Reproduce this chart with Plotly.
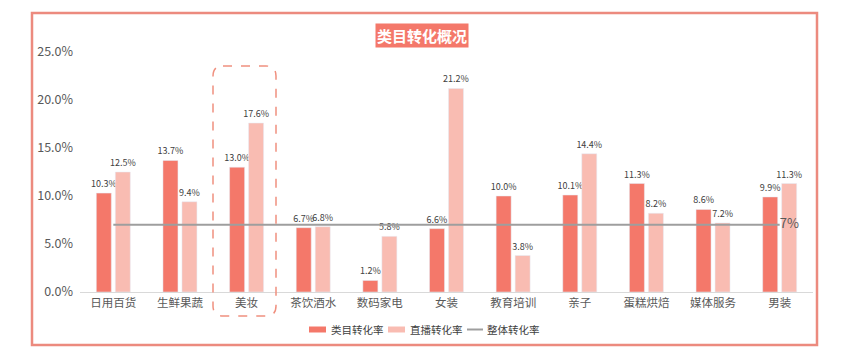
import plotly.graph_objects as go

categories = ["日用百货", "生鲜果蔬", "美妆", "茶饮酒水", "数码家电", "女装", "教育培训", "亲子", "蛋糕烘焙", "媒体服务", "男装"]
category_rate = [10.3, 13.7, 13.0, 6.7, 1.2, 6.6, 10.0, 10.1, 11.3, 8.6, 9.9]
live_rate = [12.5, 9.4, 17.6, 6.8, 5.8, 21.2, 3.8, 14.4, 8.2, 7.2, 11.3]
overall_rate = 7
y_ticks = [0, 5, 10, 15, 20, 25]
series_names = ["类目转化率", "直播转化率", "整体转化率"]

FONT = "Noto Sans CJK SC"
DARK = "#F4786A"
LIGHT = "#F9BCB2"
LINE = "#9E9E9E"
BORDER = "#EC8A7E"

W, H = 844, 354
L, R, T, B = 80, 31, 52, 62
pw, ph = W - L - R, H - T - B

def px(x):
    return (x - L) / pw

def py(y):
    return (H - B - y) / ph

fig = go.Figure()
fig.add_trace(go.Bar(
    x=categories, y=category_rate, name=series_names[0], marker_color=DARK,
    text=[f"{v:.1f}%" for v in category_rate], textposition="outside",
    constraintext="none",
    textfont=dict(size=9, color="#404040"), cliponaxis=False))
fig.add_trace(go.Bar(
    x=categories, y=live_rate, name=series_names[1], marker_color=LIGHT,
    text=[f"{v:.1f}%" for v in live_rate], textposition="outside",
    constraintext="none",
    textfont=dict(size=9, color="#404040"), cliponaxis=False))
fig.add_trace(go.Scatter(
    x=categories, y=[overall_rate] * len(categories), name=series_names[2],
    mode="lines+text", line=dict(color=LINE, width=2),
    text=[""] * (len(categories) - 1) + [f"{overall_rate}%"],
    textposition="middle right", textfont=dict(size=13, color="#595959"),
    cliponaxis=False))

# outer border
fig.add_shape(type="rect", xref="paper", yref="paper",
              x0=px(32), x1=px(817), y0=py(345), y1=py(13),
              line=dict(color=BORDER, width=2.5), layer="below")

# dashed rounded highlight around 美妆
x0, x1, y0, y1, r = px(213), px(276), py(316), py(66), 10
rx, ry = r / pw, r / ph
path = (f"M {x0+rx},{y1} L {x1-rx},{y1} Q {x1},{y1} {x1},{y1-ry} "
        f"L {x1},{y0+ry} Q {x1},{y0} {x1-rx},{y0} L {x0+rx},{y0} "
        f"Q {x0},{y0} {x0},{y0+ry} L {x0},{y1-ry} Q {x0},{y1} {x0+rx},{y1} Z")
fig.add_shape(type="path", xref="paper", yref="paper", path=path,
              line=dict(color="#F0907F", width=1.5, dash="dash"))

fig.add_annotation(xref="paper", yref="paper", x=px(422), y=py(22.5),
                   text="<b>类目转化概况</b>", showarrow=False,
                   font=dict(size=15, color="white", family=FONT),
                   bgcolor=DARK, borderpad=1)

# custom compact legend
ly = 329.5
fig.add_shape(type="rect", xref="paper", yref="paper",
              x0=px(309), x1=px(326), y0=py(ly + 3), y1=py(ly - 3),
              fillcolor=DARK, line=dict(width=0))
fig.add_shape(type="rect", xref="paper", yref="paper",
              x0=px(388), x1=px(405), y0=py(ly + 3), y1=py(ly - 3),
              fillcolor=LIGHT, line=dict(width=0))
fig.add_shape(type="line", xref="paper", yref="paper",
              x0=px(467), x1=px(483), y0=py(ly), y1=py(ly),
              line=dict(color=LINE, width=2))
for name, xs in zip(series_names, [329, 408, 485]):
    fig.add_annotation(xref="paper", yref="paper", x=px(xs), y=py(ly),
                       xanchor="left", yanchor="middle", text=name, showarrow=False,
                       font=dict(size=10.5, color="#404040", family=FONT))

fig.update_layout(
    width=W, height=H, margin=dict(l=L, r=R, t=T, b=B),
    paper_bgcolor="white", plot_bgcolor="white",
    font=dict(family=FONT, color="#595959"),
    barmode="group", bargap=0.43, bargroupgap=0.21,
    showlegend=False,
    xaxis=dict(showline=True, linecolor="#D9D9D9", linewidth=1, ticks="",
               tickfont=dict(size=11.5, color="#595959"), range=[-0.5, 10.5]),
    yaxis=dict(range=[0, 25], tickvals=y_ticks, ticktext=[f"{v:.1f}%" for v in y_ticks],
               showgrid=False, zeroline=False, showline=False,
               tickfont=dict(size=12.5, color="#595959"), ticklen=0, ticks="",
               ticklabelstandoff=6),
)

fig.write_html("out.html")
